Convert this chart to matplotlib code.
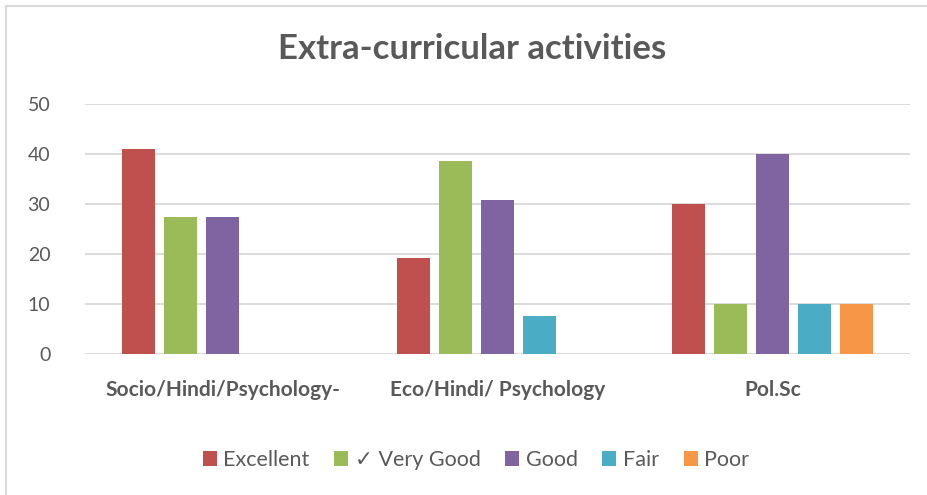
import matplotlib
matplotlib.use("Agg")
import matplotlib.pyplot as plt
import numpy as np
from matplotlib.lines import Line2D

plt.rcParams['font.family'] = ['Lato', 'DejaVu Sans']

categories = ["Socio/Hindi/Psychology-", "Eco/Hindi/ Psychology", "Pol.Sc"]
series = ["Excellent", "\u2713 Very Good", "Good", "Fair", "Poor"]
excellent = [40.9, 19.2, 30.0]
very_good = [27.3, 38.5, 10.0]
good = [27.3, 30.8, 40.0]
fair = [0.0, 7.7, 10.0]
poor = [0.0, 0.0, 10.0]
values = [excellent, very_good, good, fair, poor]
colors = ["#C0504D", "#9BBB59", "#8064A2", "#4BACC6", "#F79646"]
yticks = [0, 10, 20, 30, 40, 50]

text_col = "#595959"
grid_col = "#D9D9D9"

fig = plt.figure(figsize=(9.28, 4.95), dpi=100)
ax = fig.add_axes([85 / 928, 1 - 354 / 495, 825 / 928, 250 / 495])

x = np.arange(len(categories))
step = 0.152
width = 0.12
for i, (name, vals, c) in enumerate(zip(series, values, colors)):
    ax.bar(x + (i - 2) * step, vals, width, color=c, label=name, zorder=3)

ax.set_xlim(-0.5, 2.5)
ax.set_ylim(0, 50)
ax.set_yticks(yticks)
ax.set_yticklabels([str(t) for t in yticks], fontsize=14, color=text_col)
ax.set_xticks(x)
ax.set_xticklabels(categories, fontsize=15, fontweight='bold', color=text_col)
ax.tick_params(axis='both', length=0)
ax.tick_params(axis='y', pad=25)
ax.tick_params(axis='x', pad=19)
ax.grid(axis='y', color=grid_col, linewidth=1.3, zorder=0)
for s in ax.spines.values():
    s.set_visible(False)

fig.text(472 / 928, 1 - 49 / 495, "Extra-curricular activities", ha='center', va='center',
         fontsize=25, fontweight='bold', color=text_col)

leg = fig.legend(loc='center', bbox_to_anchor=(476 / 928, 1 - 460 / 495), ncol=5,
                 frameon=False, fontsize=15.5, handlelength=0.65, handleheight=0.65,
                 handletextpad=0.3, columnspacing=1.15)
for t in leg.get_texts():
    t.set_color(text_col)

# outer chart border (left and top visible)
fig.add_artist(Line2D([6 / 928, 6 / 928], [0, 1 - 6 / 495], color=grid_col, linewidth=1.5))
fig.add_artist(Line2D([6 / 928, 1], [1 - 6 / 495, 1 - 6 / 495], color=grid_col, linewidth=1.5))

fig.savefig("out.png", dpi=100)
